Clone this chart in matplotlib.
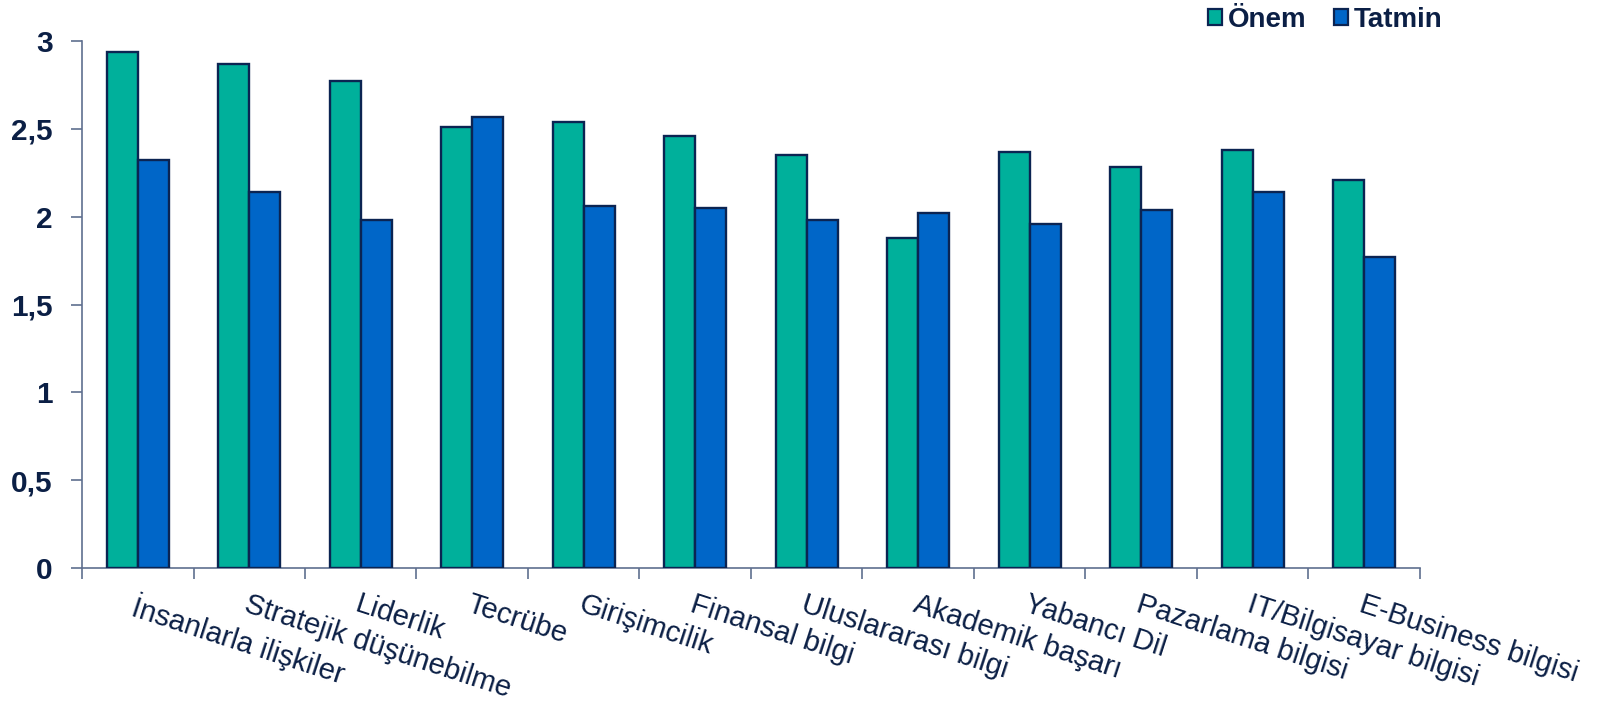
import matplotlib
matplotlib.use("Agg")
import matplotlib.pyplot as plt
from matplotlib.patches import Patch
from matplotlib.ticker import FixedLocator, NullFormatter
import numpy as np

categories = [
    "İnsanlarla ilişkiler", "Stratejik düşünebilme", "Liderlik", "Tecrübe",
    "Girişimcilik", "Finansal bilgi", "Uluslararası bilgi", "Akademik başarı",
    "Yabancı Dil", "Pazarlama bilgisi", "IT/Bilgisayar bilgisi", "E-Business bilgisi",
]
onem = [2.94, 2.87, 2.77, 2.51, 2.54, 2.46, 2.35, 1.88, 2.37, 2.28, 2.38, 2.21]
tatmin = [2.32, 2.14, 1.98, 2.57, 2.06, 2.05, 1.98, 2.02, 1.96, 2.04, 2.14, 1.77]
series_names = ["Önem", "Tatmin"]
y_ticks = [0, 0.5, 1, 1.5, 2, 2.5, 3]
y_tick_labels = ["0", "0,5", "1", "1,5", "2", "2,5", "3"]

TEAL = "#00b09b"
BLUE = "#0066c8"
EDGE = "#0b2452"
TEXT = "#0b1f45"
AXIS = "#5f6f8f"

plt.rcParams["font.family"] = ["Liberation Sans", "DejaVu Sans"]

fig = plt.figure(figsize=(16.04, 7.02), dpi=100)
ax = fig.add_axes([82 / 1604, 1 - 568 / 702, (1420 - 82) / 1604, (568 - 41) / 702])

x = np.arange(len(categories))
w = 0.28
ax.bar(x - w / 2, onem, w, color=TEAL, edgecolor=EDGE, linewidth=1.7, zorder=3)
ax.bar(x + w / 2, tatmin, w, color=BLUE, edgecolor=EDGE, linewidth=1.7, zorder=3)

ax.set_xlim(-0.5, len(categories) - 0.5)
ax.set_ylim(0, 3)

for s in ("top", "right"):
    ax.spines[s].set_visible(False)
for s in ("left", "bottom"):
    ax.spines[s].set_color(AXIS)
    ax.spines[s].set_linewidth(1.2)

ax.set_yticks(y_ticks)
ax.set_yticklabels(y_tick_labels, fontsize=21.5, fontweight="bold", color=TEXT)
ax.tick_params(axis="y", direction="out", length=8, width=1.2, color=AXIS, pad=13)

# category labels at group centres, tick marks at group boundaries
ax.set_xticks(x)
ax.set_xticklabels(categories, fontsize=21, color=TEXT, rotation=-18,
                   ha="left", va="top", rotation_mode="anchor")
ax.tick_params(axis="x", which="major", length=0, pad=16)
ax.xaxis.set_minor_locator(FixedLocator(np.arange(-0.5, len(categories), 1.0)))
ax.xaxis.set_minor_formatter(NullFormatter())
ax.tick_params(axis="x", which="minor", direction="out", length=8, width=1.2, color=AXIS)

handles = [
    Patch(facecolor=TEAL, edgecolor=EDGE, linewidth=1.6),
    Patch(facecolor=BLUE, edgecolor=EDGE, linewidth=1.6),
]
fig.legend(handles, series_names, loc="center left",
           bbox_to_anchor=(1208 / 1604, 1 - 20 / 702), ncol=2, frameon=False,
           borderpad=0, borderaxespad=0, handlelength=0.5, handleheight=0.5,
           handletextpad=0.2, columnspacing=1.0,
           prop={"size": 20, "weight": "bold"}, labelcolor=TEXT)

fig.savefig("out.png", dpi=100)
